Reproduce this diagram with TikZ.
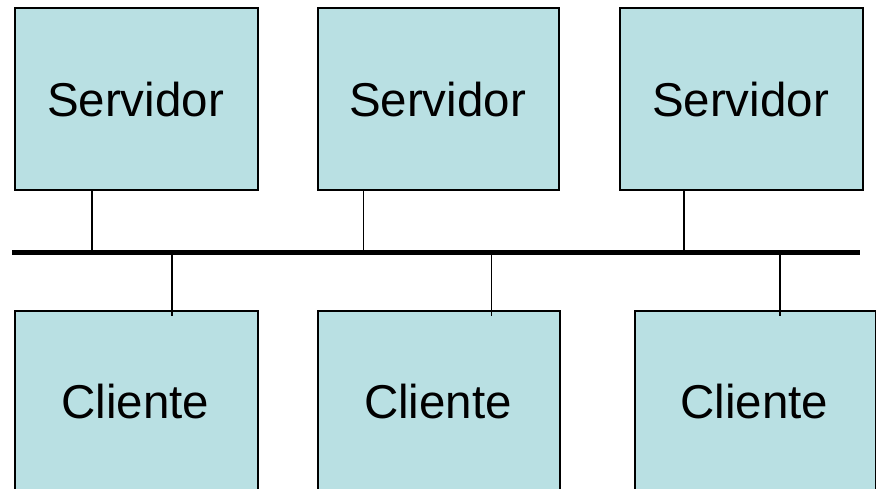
\documentclass[tikz,border=0pt]{standalone}
\usepackage{fontspec}
\setmainfont{Liberation Sans}
\definecolor{boxfill}{RGB}{185,224,227}
\tikzset{
  hostbox/.style={draw=black, line width=1.6pt, fill=boxfill, inner sep=0pt,
    anchor=north west},
  hostlabel/.style={font=\fontsize{47.5}{52}\selectfont},
  tap/.style={draw=black, line width=1.6pt},
  bus/.style={draw=black, line width=5pt}
}
\begin{document}
\begin{tikzpicture}[x=1pt, y=-1pt]
  \useasboundingbox (0,0) rectangle (876,489);
  \clip (0,0) rectangle (876,489);
  % servers
  \node[hostbox, minimum width=243pt, minimum height=182pt] (s1) at (14,7) {};
  \node[hostbox, minimum width=241pt, minimum height=182pt] (s2) at (317,7) {};
  \node[hostbox, minimum width=243pt, minimum height=182pt] (s3) at (619,7) {};
  \node[hostlabel] (ts1) at (135.5,100) {Servidor};
  \node[hostlabel] (ts2) at (437.5,100) {Servidor};
  \node[hostlabel] (ts3) at (740.5,100) {Servidor};
  % clients
  \node[hostbox, minimum width=243pt, minimum height=182pt] (c1) at (14,310) {};
  \node[hostbox, minimum width=242pt, minimum height=182pt] (c2) at (317,310) {};
  \node[hostbox, minimum width=241pt, minimum height=182pt] (c3) at (634,310) {};
  \node[hostlabel] (tc1) at (135.5,402) {Cliente};
  \node[hostlabel] (tc2) at (438,402) {Cliente};
  \node[hostlabel] (tc3) at (754.5,402) {Cliente};
  % shared bus
  \coordinate (busL) at (12,252.5);
  \coordinate (busR) at (860,252.5);
  \draw[bus] (busL) -- (busR);
  % taps on the bus
  \coordinate (b1) at (92,252.5);
  \coordinate (b2) at (363.5,252.5);
  \coordinate (b3) at (684,252.5);
  \coordinate (b4) at (172,252.5);
  \coordinate (b5) at (491.5,252.5);
  \coordinate (b6) at (780,252.5);
  \draw[tap] (s1.south -| b1) -- (b1);
  \draw[tap] (s2.south -| b2) -- (b2);
  \draw[tap] (s3.south -| b3) -- (b3);
  \draw[tap] (b4) -- ([yshift=-6pt]c1.north -| b4);
  \draw[tap] (b5) -- ([yshift=-6pt]c2.north -| b5);
  \draw[tap] (b6) -- ([yshift=-6pt]c3.north -| b6);
\end{tikzpicture}
\end{document}
